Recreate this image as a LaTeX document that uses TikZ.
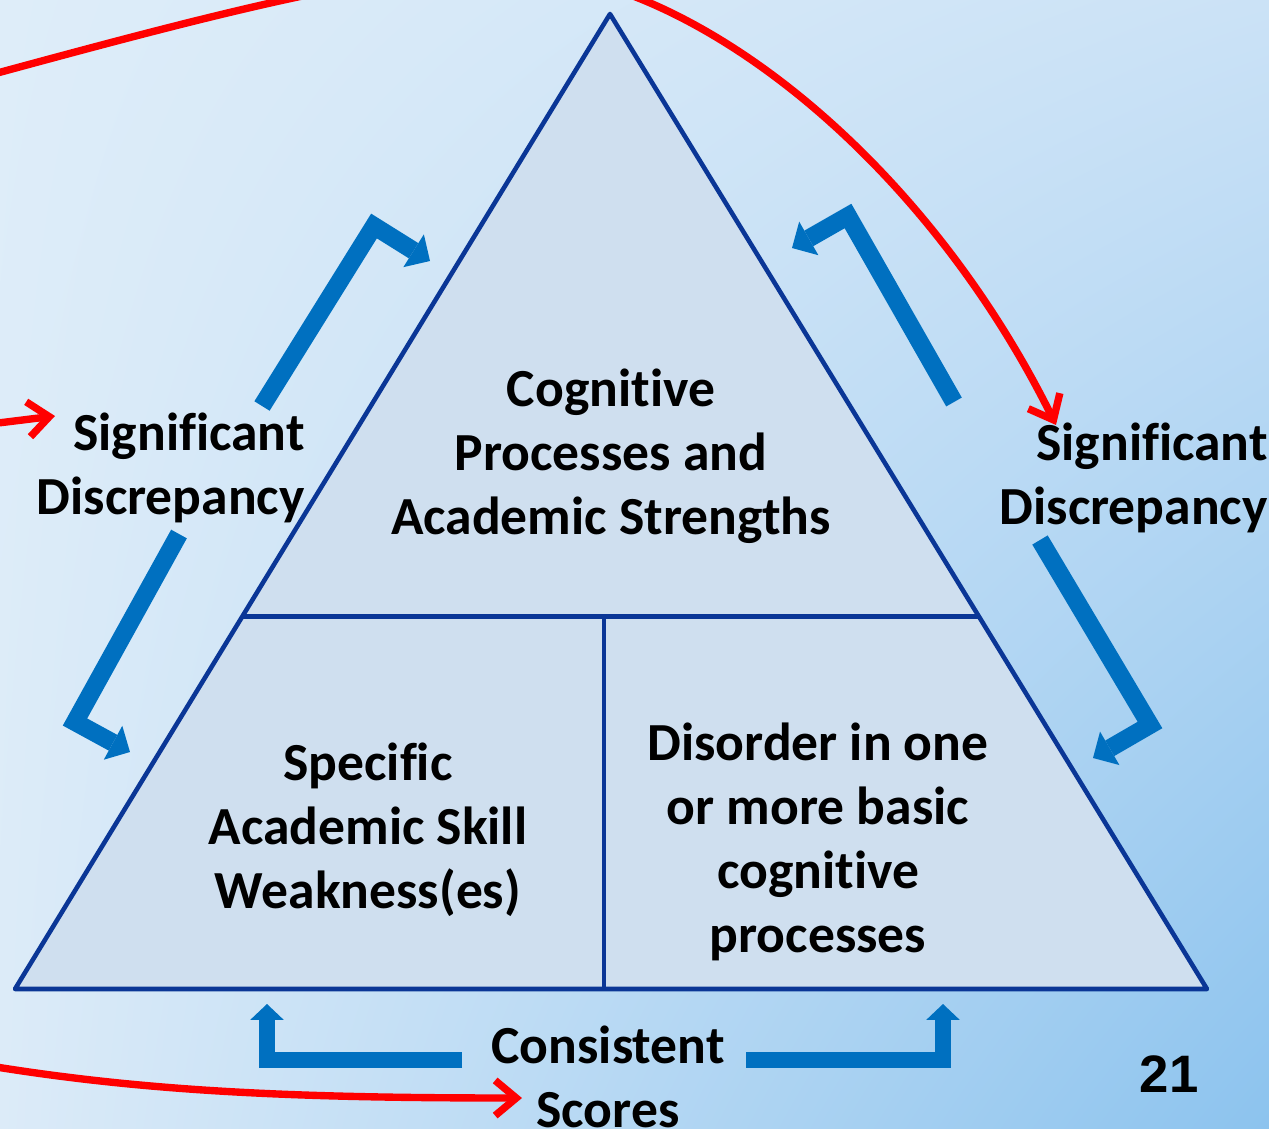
\documentclass[tikz,border=0pt]{standalone}
\usepackage{fontspec}
\setmainfont{Carlito}[RawFeature={-liga;-clig}]
\newfontfamily\numfont{Liberation Sans}
\usetikzlibrary{arrows.meta,shadings,calc}
\definecolor{bgul}{HTML}{DEEDF9}
\definecolor{bgur}{HTML}{CBE2F6}
\definecolor{bgll}{HTML}{DCEBF8}
\definecolor{bglr}{HTML}{8CC3EE}
\definecolor{trifill}{HTML}{CFDFEF}
\definecolor{triline}{HTML}{0A3696}
\definecolor{arrowblue}{HTML}{0070C0}
\definecolor{redline}{HTML}{FF0000}
\tikzset{
  label text/.style={font=\fontsize{30.5}{36.4}\selectfont\bfseries, align=center, inner sep=0pt},
  triangle edge/.style={draw=triline, line width=2.6pt, line join=round},
  bent arrow/.style={draw=arrowblue, line width=10.2pt, line join=miter,
    -{Triangle[length=11pt, width=22pt, line width=0pt]}},
  flat arrow/.style={draw=arrowblue, line width=9pt, line join=miter,
    -{Triangle[length=9pt, width=19pt, line width=0pt]}},
  red arrow/.style={draw=redline, line width=4.2pt, line cap=round, line join=round,
    -{Straight Barb[length=12pt, width=20pt]}}
}
\begin{document}
\begin{tikzpicture}[x=0.02cm, y=-0.02cm]
  \useasboundingbox (0,0) rectangle (1269,1129);
  \clip (0,0) rectangle (1269,1129);
  % background
  \shade[upper left=bgul, upper right=bgur, lower left=bgll, lower right=bglr]
    (0,0) rectangle (1269,1129);
  % triangle corners
  \coordinate (T) at (610,14);
  \coordinate (L) at (15,989);
  \coordinate (R) at (1207,989);
  \coordinate (ML) at ($(T)!0.618!(L)$);
  \coordinate (MR) at ($(T)!0.618!(R)$);
  \coordinate (MT) at (604,617);
  \coordinate (MB) at (604,989);
  \fill[trifill] (T) -- (L) -- (R) -- cycle;
  \draw[triangle edge] (T) -- (L) -- (R) -- cycle;
  \draw[triangle edge] (ML) -- (MR);
  \draw[triangle edge] (MT) -- (MB);
  % texts
  \node[label text] (cog) at (611,456) {Cognitive\\Processes and\\Academic Strengths};
  \node[label text] (spec) at (368,830) {Specific\\Academic Skill\\Weakness(es)};
  \node[label text] (dis) at (818,842) {Disorder in one\\or more basic\\cognitive\\processes};
  \node[label text, align=right, anchor=east] (sigL) at (305,468) {Significant\\Discrepancy};
  \node[label text, align=right, anchor=east] (sigR) at (1268,478) {Significant\\Discrepancy};
  \node[label text] (cons) at (608,1077) {Consistent\\Scores};
  \node[font=\numfont\fontsize{30}{36}\selectfont\bfseries, inner sep=0pt] (num) at (1169,1074) {21};
  % blue arrows
  \coordinate (ulA) at (262,406); \coordinate (ulB) at (374,226); \coordinate (ulC) at (430,261);
  \coordinate (llA) at (179,534); \coordinate (llB) at (75,722);  \coordinate (llC) at (130,752);
  \coordinate (urA) at (954,402); \coordinate (urB) at (848,216); \coordinate (urC) at (792,248);
  \coordinate (lrA) at (1040,540); \coordinate (lrB) at (1150,725); \coordinate (lrC) at (1093,758);
  \foreach \a in {ul,ll,ur,lr} {
    \draw[bent arrow] (\a A) -- (\a B) -- (\a C);
  }
  \coordinate (blA) at (462,1060); \coordinate (blB) at (267,1060); \coordinate (blC) at (267,1004);
  \coordinate (brA) at (746,1060); \coordinate (brB) at (943,1060); \coordinate (brC) at (943,1004);
  \draw[flat arrow] (blA) -- (blB) -- (blC);
  \draw[flat arrow] (brA) -- (brB) -- (brC);
  % red arrows
  \coordinate (topin) at (-10,75);
  \coordinate (sigRtip) at (1056,425);
  \draw[red arrow] (topin) .. controls (200,18) and (380,-30) .. (500,-30)
    .. controls (680,-35) and (920,150) .. (sigRtip);
  \coordinate (leftin) at (-10,424);
  \draw[red arrow] (leftin) -- (55,416);
  \coordinate (botin) at (-10,1066);
  \draw[red arrow] (botin) .. controls (150,1092) and (300,1098) .. (522,1098);
\end{tikzpicture}
\end{document}
